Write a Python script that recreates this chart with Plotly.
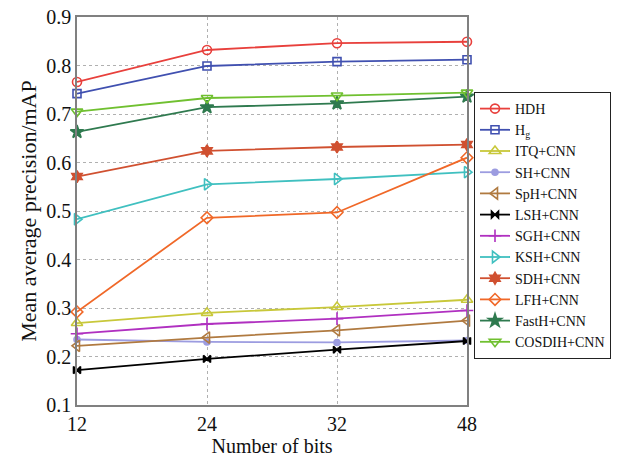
import plotly.graph_objects as go

bits = ["12", "24", "32", "48"]

hdh = [0.766, 0.832, 0.846, 0.849]
hg = [0.742, 0.799, 0.808, 0.812]
itq = [0.269, 0.290, 0.302, 0.317]
sh = [0.235, 0.230, 0.229, 0.233]
sph = [0.222, 0.239, 0.254, 0.274]
lsh = [0.172, 0.195, 0.214, 0.232]
sgh = [0.247, 0.267, 0.278, 0.295]
ksh = [0.483, 0.555, 0.566, 0.580]
sdh = [0.571, 0.624, 0.632, 0.637]
lfh = [0.292, 0.486, 0.497, 0.610]
fasth = [0.663, 0.714, 0.722, 0.736]
cosdih = [0.705, 0.733, 0.738, 0.744]

series = [
    ("HDH", hdh, "#e8403c", "circle-open", 9),
    ("H<sub>g</sub>", hg, "#4050b0", "square-open", 8),
    ("ITQ+CNN", itq, "#c8c83a", "triangle-up-open", 10),
    ("SH+CNN", sh, "#9c9ce0", "circle", 6),
    ("SpH+CNN", sph, "#b07a40", "triangle-left-open", 10),
    ("LSH+CNN", lsh, "#000000", "bowtie", 7),
    ("SGH+CNN", sgh, "#b030c0", "cross-thin-open", 9),
    ("KSH+CNN", ksh, "#40c0c0", "triangle-right-open", 10),
    ("SDH+CNN", sdh, "#d05030", "hexagram", 9),
    ("LFH+CNN", lfh, "#f06828", "diamond-open", 9),
    ("FastH+CNN", fasth, "#2f7a4f", "star", 10),
    ("COSDIH+CNN", cosdih, "#70c030", "triangle-down-open", 10),
]

fig = go.Figure()
for name, vals, color, sym, size in series:
    fig.add_trace(go.Scatter(
        x=bits, y=vals, name=name, mode="lines+markers",
        line=dict(color=color, width=1.8),
        marker=dict(symbol=sym, size=size, color=color, line=dict(color=color, width=1.6)),
        cliponaxis=False,
    ))

serif = "Liberation Serif, Times New Roman, serif"
L, R, T, B = 77, 151, 17, 55
pw = 618 - L - R
ph = 460 - T - B
fig.update_layout(
    width=618, height=460,
    margin=dict(l=L, r=R, t=T, b=B, autoexpand=False),
    paper_bgcolor="white", plot_bgcolor="white",
    font=dict(family=serif, size=16, color="#111"),
    showlegend=True,
    legend=dict(
        x=(474 - L) / pw, y=(460 - B - 92) / ph, xanchor="left", yanchor="top",
        bgcolor="white", bordercolor="#222", borderwidth=1,
        font=dict(family=serif, size=14, color="#111"),
        tracegroupgap=0, itemwidth=30,
    ),
    xaxis=dict(
        type="category", range=[0, 3], automargin=False,
        showline=True, linecolor="#808080", linewidth=1.5, mirror=True,
        showgrid=True, gridcolor="#b0b0b0", griddash="dot", gridwidth=1,
        ticks="", tickfont=dict(family=serif, size=20),
        title=dict(text="Number of bits", font=dict(family=serif, size=20), standoff=0),
    ),
    yaxis=dict(
        range=[0.1, 0.9], dtick=0.1, tick0=0.1, tickformat=".1f", automargin=False,
        showline=True, linecolor="#808080", linewidth=1.5, mirror=True,
        showgrid=True, gridcolor="#b0b0b0", griddash="dot", gridwidth=1,
        ticks="", tickfont=dict(family=serif, size=20), zeroline=False,
        title=dict(text="Mean average precision/mAP", font=dict(family=serif, size=22), standoff=4),
    ),
)

fig.write_html("out.html", config={"displayModeBar": False},
               post_script="document.body.style.margin='0px';")
